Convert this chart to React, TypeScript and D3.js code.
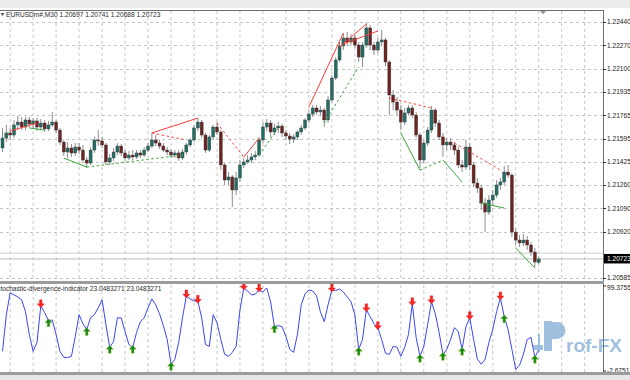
import React from 'react';
import * as d3 from 'd3';

const W = 630;
const H = 380;

// OHLC of EURUSDm#, M30
const opens = [
  1.21527, 1.21599, 1.21636, 1.21621, 1.21694, 1.21715, 1.21679, 1.21730, 1.21701, 1.21723,
  1.21679, 1.21708, 1.21665, 1.21694, 1.21715, 1.21657, 1.21570, 1.21498, 1.21527, 1.21491,
  1.21534, 1.21512, 1.21440, 1.21418, 1.21512, 1.21585, 1.21578, 1.21549, 1.21426, 1.21455,
  1.21498, 1.21541, 1.21491, 1.21455, 1.21476, 1.21462, 1.21491, 1.21476, 1.21512, 1.21541,
  1.21585, 1.21563, 1.21541, 1.21512, 1.21498, 1.21476, 1.21491, 1.21455, 1.21498, 1.21549,
  1.21585, 1.21672, 1.21715, 1.21621, 1.21512, 1.21607, 1.21679, 1.21643, 1.21404, 1.21295,
  1.21317, 1.21223, 1.21310, 1.21404, 1.21426, 1.21440, 1.21462, 1.21476, 1.21585, 1.21679,
  1.21708, 1.21643, 1.21672, 1.21686, 1.21636, 1.21614, 1.21592, 1.21607, 1.21643, 1.21672,
  1.21730, 1.21773, 1.21817, 1.21788, 1.21802, 1.21730, 1.21875, 1.22034, 1.22165, 1.22266,
  1.22324, 1.22295, 1.22324, 1.22273, 1.22186, 1.22273, 1.22397, 1.22273, 1.22237, 1.22295,
  1.22310, 1.22150, 1.21911, 1.21860, 1.21802, 1.21715, 1.21781, 1.21817, 1.21766, 1.21621,
  1.21440, 1.21563, 1.21657, 1.21802, 1.21708, 1.21607, 1.21549, 1.21570, 1.21549, 1.21512,
  1.21404, 1.21389, 1.21534, 1.21404, 1.21273, 1.21237, 1.21128, 1.21063, 1.21150, 1.21186,
  1.21259, 1.21281, 1.21353, 1.21331, 1.20918, 1.20860, 1.20839, 1.20860, 1.20824, 1.20773,
  1.20697,
];
const highs = [
  1.21672, 1.21694, 1.21672, 1.21730, 1.21759, 1.21752, 1.21752, 1.21752, 1.21744, 1.21744,
  1.21737, 1.21730, 1.21723, 1.21788, 1.21730, 1.21672, 1.21585, 1.21570, 1.21556, 1.21563,
  1.21563, 1.21549, 1.21462, 1.21534, 1.21607, 1.21657, 1.21607, 1.21563, 1.21484, 1.21527,
  1.21563, 1.21556, 1.21512, 1.21505, 1.21512, 1.21512, 1.21512, 1.21534, 1.21563, 1.21636,
  1.21621, 1.21585, 1.21563, 1.21534, 1.21520, 1.21512, 1.21512, 1.21520, 1.21563, 1.21599,
  1.21694, 1.21744, 1.21730, 1.21636, 1.21621, 1.21694, 1.21715, 1.21657, 1.21418, 1.21353,
  1.21331, 1.21353, 1.21440, 1.21455, 1.21476, 1.21491, 1.21505, 1.21607, 1.21715, 1.21737,
  1.21730, 1.21701, 1.21715, 1.21701, 1.21657, 1.21636, 1.21628, 1.21657, 1.21694, 1.21744,
  1.21802, 1.21839, 1.21839, 1.21831, 1.21817, 1.21904, 1.22056, 1.22186, 1.22295, 1.22360,
  1.22368, 1.22353, 1.22346, 1.22295, 1.22295, 1.22433, 1.22418, 1.22295, 1.22324, 1.22382,
  1.22324, 1.22165, 1.21947, 1.21897, 1.21839, 1.21817, 1.21839, 1.21839, 1.21788, 1.21636,
  1.21585, 1.21679, 1.21831, 1.21817, 1.21730, 1.21636, 1.21599, 1.21599, 1.21570, 1.21534,
  1.21440, 1.21585, 1.21563, 1.21426, 1.21310, 1.21259, 1.21165, 1.21186, 1.21223, 1.21295,
  1.21310, 1.21397, 1.21404, 1.21346, 1.20947, 1.20897, 1.20904, 1.20889, 1.20846, 1.20802,
  1.20741,
];
const lows = [
  1.21498, 1.21570, 1.21585, 1.21599, 1.21657, 1.21657, 1.21657, 1.21672, 1.21672, 1.21650,
  1.21657, 1.21643, 1.21650, 1.21679, 1.21636, 1.21549, 1.21469, 1.21455, 1.21462, 1.21469,
  1.21484, 1.21418, 1.21382, 1.21404, 1.21491, 1.21541, 1.21527, 1.21404, 1.21404, 1.21433,
  1.21476, 1.21469, 1.21433, 1.21440, 1.21440, 1.21447, 1.21455, 1.21462, 1.21498, 1.21527,
  1.21541, 1.21520, 1.21498, 1.21476, 1.21455, 1.21455, 1.21433, 1.21440, 1.21476, 1.21534,
  1.21570, 1.21650, 1.21599, 1.21491, 1.21498, 1.21585, 1.21621, 1.21368, 1.21259, 1.21259,
  1.21100, 1.21186, 1.21281, 1.21382, 1.21411, 1.21418, 1.21440, 1.21462, 1.21563, 1.21650,
  1.21607, 1.21621, 1.21636, 1.21607, 1.21585, 1.21556, 1.21563, 1.21585, 1.21621, 1.21657,
  1.21708, 1.21752, 1.21766, 1.21759, 1.21679, 1.21708, 1.21860, 1.22020, 1.22150, 1.22237,
  1.22266, 1.22273, 1.22252, 1.22150, 1.22114, 1.22252, 1.22237, 1.22201, 1.22215, 1.22266,
  1.22121, 1.21766, 1.21802, 1.21766, 1.21657, 1.21694, 1.21766, 1.21744, 1.21599, 1.21382,
  1.21418, 1.21541, 1.21636, 1.21679, 1.21585, 1.21462, 1.21512, 1.21512, 1.21476, 1.21382,
  1.21353, 1.21368, 1.21368, 1.21244, 1.21201, 1.21078, 1.20918, 1.21042, 1.21114, 1.21165,
  1.21223, 1.21259, 1.21310, 1.20882, 1.20824, 1.20810, 1.20817, 1.20788, 1.20744, 1.20665,
  1.20688,
];
const closes = [
  1.21599, 1.21636, 1.21621, 1.21694, 1.21715, 1.21679, 1.21730, 1.21701, 1.21723, 1.21679,
  1.21708, 1.21665, 1.21694, 1.21715, 1.21657, 1.21570, 1.21498, 1.21527, 1.21491, 1.21534,
  1.21512, 1.21440, 1.21418, 1.21512, 1.21585, 1.21578, 1.21549, 1.21426, 1.21455, 1.21498,
  1.21541, 1.21491, 1.21455, 1.21476, 1.21462, 1.21491, 1.21476, 1.21512, 1.21541, 1.21585,
  1.21563, 1.21541, 1.21512, 1.21498, 1.21476, 1.21491, 1.21455, 1.21498, 1.21549, 1.21585,
  1.21672, 1.21715, 1.21621, 1.21512, 1.21607, 1.21679, 1.21643, 1.21404, 1.21295, 1.21317,
  1.21223, 1.21310, 1.21404, 1.21426, 1.21440, 1.21462, 1.21476, 1.21585, 1.21679, 1.21708,
  1.21643, 1.21672, 1.21686, 1.21636, 1.21614, 1.21592, 1.21607, 1.21643, 1.21672, 1.21730,
  1.21773, 1.21817, 1.21788, 1.21802, 1.21730, 1.21875, 1.22034, 1.22165, 1.22266, 1.22324,
  1.22295, 1.22324, 1.22273, 1.22186, 1.22273, 1.22397, 1.22273, 1.22237, 1.22295, 1.22310,
  1.22150, 1.21911, 1.21860, 1.21802, 1.21715, 1.21781, 1.21817, 1.21766, 1.21621, 1.21440,
  1.21563, 1.21657, 1.21802, 1.21708, 1.21607, 1.21549, 1.21570, 1.21549, 1.21512, 1.21404,
  1.21389, 1.21534, 1.21404, 1.21273, 1.21237, 1.21128, 1.21063, 1.21150, 1.21186, 1.21259,
  1.21281, 1.21353, 1.21331, 1.20918, 1.20860, 1.20839, 1.20860, 1.20824, 1.20773, 1.20701,
  1.20723,
];

// Stochastic divergence indicator main line
const stoch = [
  20.9, 64.9, 91.1, 88.7, 86.3, 82.7, 68.5, 41.1, 20.9, 31.6,
  75.6, 67.3, 57.8, 58.5, 41.1, 20.9, 13.8, 13.5, 15.0, 38.8,
  64.9, 54.2, 47.1, 61.3, 64.9, 73.2, 82.7, 53.0, 25.7, 32.8,
  61.3, 61.0, 44.7, 29.2, 25.7, 43.5, 56.6, 61.3, 73.2, 83.9,
  76.8, 66.1, 51.8, 35.2, 5.5, 11.4, 31.6, 61.3, 87.5, 83.9,
  81.5, 81.0, 61.3, 29.2, 26.9, 64.9, 55.4, 35.2, 17.3, 15.0,
  19.7, 26.9, 70.8, 97.0, 93.4, 88.7, 89.5, 94.6, 92.2, 97.0,
  80.4, 50.6, 51.8, 50.6, 38.8, 23.3, 19.7, 41.1, 76.8, 89.9,
  94.6, 93.4, 87.5, 68.5, 56.6, 76.8, 94.6, 94.0, 95.8, 92.2,
  86.3, 80.4, 64.9, 23.3, 35.2, 70.8, 62.5, 54.2, 49.4, 35.2,
  18.5, 17.3, 26.9, 26.0, 15.0, 25.7, 41.1, 78.0, 37.6, 15.0,
  26.9, 53.0, 80.4, 66.1, 43.5, 17.3, 23.3, 35.2, 49.4, 44.7,
  23.3, 50.6, 61.3, 35.2, 11.4, 5.5, 11.4, 31.6, 47.1, 68.5,
  85.1, 62.5, 47.1, 23.3, -0.5, 4.3, 17.3, 35.2, 37.6, 13.8,
  23.0483271,
];

const bearArrowBars = [10, 48, 51, 63, 67, 86, 95, 98, 107, 112, 122, 130];
const bullArrowBars = [12, 22, 28, 34, 44, 71, 93, 109, 115, 120, 131, 139];

// divergence lines: [bar1, price1, bar2, price2]
const bearSolid = [
  [2, 1.2165, 9, 1.21708],
  [39, 1.21636, 51, 1.21744],
  [63, 1.21461, 67, 1.21599],
  [80, 1.21824, 89, 1.2236],
  [88, 1.22259, 95, 1.22425],
  [89, 1.22281, 98, 1.22375],
];
const bearDashed = [
  [39, 1.21636, 48, 1.21585],
  [56, 1.21708, 63, 1.21461],
  [101, 1.21889, 112, 1.21817],
  [118, 1.21563, 130, 1.21367],
];
const bullSolid = [
  [7, 1.21672, 11, 1.21657],
  [16, 1.21454, 22, 1.21389],
  [104, 1.21636, 109, 1.21367],
  [115, 1.2144, 120, 1.2128],
  [125, 1.21128, 131, 1.21092],
  [134, 1.20802, 139, 1.20657],
];
const bullDashed = [
  [22, 1.21389, 47, 1.21476],
  [67, 1.21476, 72, 1.21672],
  [84, 1.21708, 93, 1.22114],
  [109, 1.21367, 115, 1.2144],
];

const priceTicks = [1.2244, 1.2227, 1.221, 1.21935, 1.21765, 1.21595, 1.21425, 1.2126, 1.2109, 1.2092, 1.20585];
const priceLabels = ['1.22440', '1.22270', '1.22100', '1.21935', '1.21765', '1.21595', '1.21425', '1.21260', '1.21090', '1.20920', '1.20585'];
const stochTicks = [99.3755, -2.675];
const stochLabels = ['99.3755', '-2.6751'];
const symbolText = 'EURUSDm#,M30  1.20697 1.20741 1.20688 1.20723';
const indicatorText = 'Stochastic-divergence-indicator 23.0483271 23.0483271';
const lastPrice = 1.20723;
const askPrice = 1.20765;

const FONT = '"Liberation Sans", Arial, sans-serif';

export default function App() {
  const n = closes.length;
  const PR = 603; // plot right edge
  const x = d3.scaleLinear().domain([0, 1]).range([2.5, 2.5 + 3.83]);
  const y = d3.scaleLinear().domain([1.20585, 1.2244]).range([278, 22]);
  const ys = d3.scaleLinear().domain([-2.675, 99.3755]).range([371, 286]);

  const gridBars = d3.range(2, 170, 6).filter((b) => x(b) < PR - 2);

  const stochLine = d3
    .line<number>()
    .x((_, i) => x(i))
    .y((v) => ys(v))(stoch) as string;

  const red = '#ff3b3b';
  const green = '#3aa63a';

  const divLine = (arr: number[][], color: string, dashed: boolean, key: string) =>
    arr.map((d, k) => (
      <line
        key={key + k}
        x1={x(d[0])}
        y1={y(d[1])}
        x2={x(d[2])}
        y2={y(d[3])}
        stroke={color}
        strokeWidth={1}
        strokeDasharray={dashed ? '2.5,2.5' : undefined}
      />
    ));

  const downArrow = (cx: number, cy: number) =>
    `M${cx - 1.3},${cy - 5} L${cx + 1.3},${cy - 5} L${cx + 1.3},${cy - 1} L${cx + 3.6},${cy - 1} L${cx},${cy + 3} L${cx - 3.6},${cy - 1} L${cx - 1.3},${cy - 1} Z`;
  const upArrow = (cx: number, cy: number) =>
    `M${cx - 1.3},${cy + 5} L${cx + 1.3},${cy + 5} L${cx + 1.3},${cy + 1} L${cx + 3.6},${cy + 1} L${cx},${cy - 3} L${cx - 3.6},${cy + 1} L${cx - 1.3},${cy + 1} Z`;

  return (
    <svg
      width={W}
      height={H}
      style={{ position: 'fixed', left: 0, top: 0, background: '#fff' }}
      fontFamily={FONT}
    >
      <rect x={0} y={0} width={W} height={H} fill="#ffffff" />
      {/* top toolbar strip */}
      <rect x={0} y={0} width={W} height={8} fill="#ececec" />

      {/* grid main */}
      {gridBars.map((b) => (
        <line key={'vg' + b} x1={x(b)} x2={x(b)} y1={11} y2={281} stroke="#c6c6c6" strokeDasharray="3,3" />
      ))}
      {priceTicks.map((p, k) => (
        <line key={'hg' + k} x1={0} x2={PR} y1={Math.round(y(p)) + 0.5} y2={Math.round(y(p)) + 0.5} stroke="#c6c6c6" strokeDasharray="3,3" />
      ))}
      {/* grid indicator */}
      {gridBars.map((b) => (
        <line key={'vgi' + b} x1={x(b)} x2={x(b)} y1={285} y2={372} stroke="#c6c6c6" strokeDasharray="3,3" />
      ))}

      {/* bid / ask lines */}
      <line x1={0} x2={PR} y1={y(askPrice)} y2={y(askPrice)} stroke="#d0d0d0" />
      <line x1={0} x2={PR} y1={y(lastPrice)} y2={y(lastPrice)} stroke="#bdbdbd" />

      {/* candles */}
      {closes.map((c, i) => {
        const o = opens[i];
        const bull = c >= o;
        const top = y(Math.max(o, c));
        const bot = y(Math.min(o, c));
        return (
          <g key={'c' + i}>
            <line x1={x(i)} x2={x(i)} y1={y(highs[i])} y2={y(lows[i])} stroke="#8e8e8e" strokeWidth={1} />
            <rect
              x={x(i) - 1.5}
              y={top}
              width={3}
              height={Math.max(1, bot - top)}
              fill={bull ? '#1f6f66' : '#6e2323'}
              stroke="#3a3a3a"
              strokeWidth={0.4}
            />
          </g>
        );
      })}

      {/* divergence lines */}
      {divLine(bearSolid, red, false, 'bs')}
      {divLine(bearDashed, red, true, 'bd')}
      {divLine(bullSolid, green, false, 'gs')}
      {divLine(bullDashed, green, true, 'gd')}

      {/* symbol header */}
      <path d="M0.5,13 L4.5,13 L2.5,16 Z" fill="#555" />
      <text x={6} y={17} fontSize={6.6} fill="#2b2b2b">{symbolText}</text>
      <path d="M540,11 L546,11 L543,14.5 Z" fill="#9a9a9a" />

      {/* indicator */}
      <path d={stochLine} fill="none" stroke="#3b46f0" strokeWidth={1} />
      {bearArrowBars.map((b) => (
        <path key={'ra' + b} d={downArrow(x(b), ys(stoch[b]) - 1)} fill="#ff2424" stroke="#c80000" strokeWidth={0.3} />
      ))}
      {bullArrowBars.map((b) => (
        <path key={'ga' + b} d={upArrow(x(b), ys(stoch[b]) + 1)} fill="#138a13" stroke="#a8c040" strokeWidth={0.4} />
      ))}
      <text x={-4} y={291} fontSize={6.6} fill="#2b2b2b">{indicatorText}</text>

      {/* watermark */}
      <g fill="#6e9fcf" opacity={0.65}>
        <rect x={533} y={345} width={10} height={5} />
        <rect x={538} y={334} width={2} height={18} />
        <rect x={544} y={321} width={8} height={30} />
        <path d="M552,322 L557,322 A8.5,8.5 0 0 1 557,339 L552,339 Z" />
        <text x={566} y={352} fontSize={19} fontWeight="bold" fontFamily={FONT}>rof-FX</text>
      </g>

      {/* frames */}
      <line x1={0} x2={PR} y1={10.5} y2={10.5} stroke="#6f6f6f" />
      <line x1={PR + 0.5} x2={PR + 0.5} y1={10} y2={374} stroke="#6f6f6f" />
      <rect x={0} y={281} width={PR + 1} height={3} fill="#9c9c9c" />
      <rect x={0} y={372} width={W} height={3} fill="#9c9c9c" />
      <rect x={0} y={375} width={W} height={5} fill="#e6e6e6" />

      {/* price axis */}
      {priceTicks.map((p, k) => (
        <g key={'pt' + k}>
          <line x1={PR} x2={PR + 3} y1={Math.round(y(p)) + 0.5} y2={Math.round(y(p)) + 0.5} stroke="#333" />
          <text x={PR + 4} y={y(p) + 2.4} fontSize={6.6} fill="#222">{priceLabels[k]}</text>
        </g>
      ))}
      <rect x={PR + 1} y={y(lastPrice) - 5} width={W - PR} height={9.5} fill="#000" />
      <text x={PR + 4} y={y(lastPrice) + 2.4} fontSize={6.6} fill="#fff">1.20723</text>

      {/* indicator axis */}
      {stochTicks.map((v, k) => (
        <g key={'st' + k}>
          <line x1={PR} x2={PR + 3} y1={ys(v)} y2={ys(v)} stroke="#333" />
          <text x={PR + 4} y={k === 0 ? ys(v) + 4 : ys(v) + 2.4} fontSize={6.6} fill="#222">{stochLabels[k]}</text>
        </g>
      ))}
      <rect x={PR + 1} y={372} width={W - PR} height={3} fill="#9c9c9c" />
    </svg>
  );
}
